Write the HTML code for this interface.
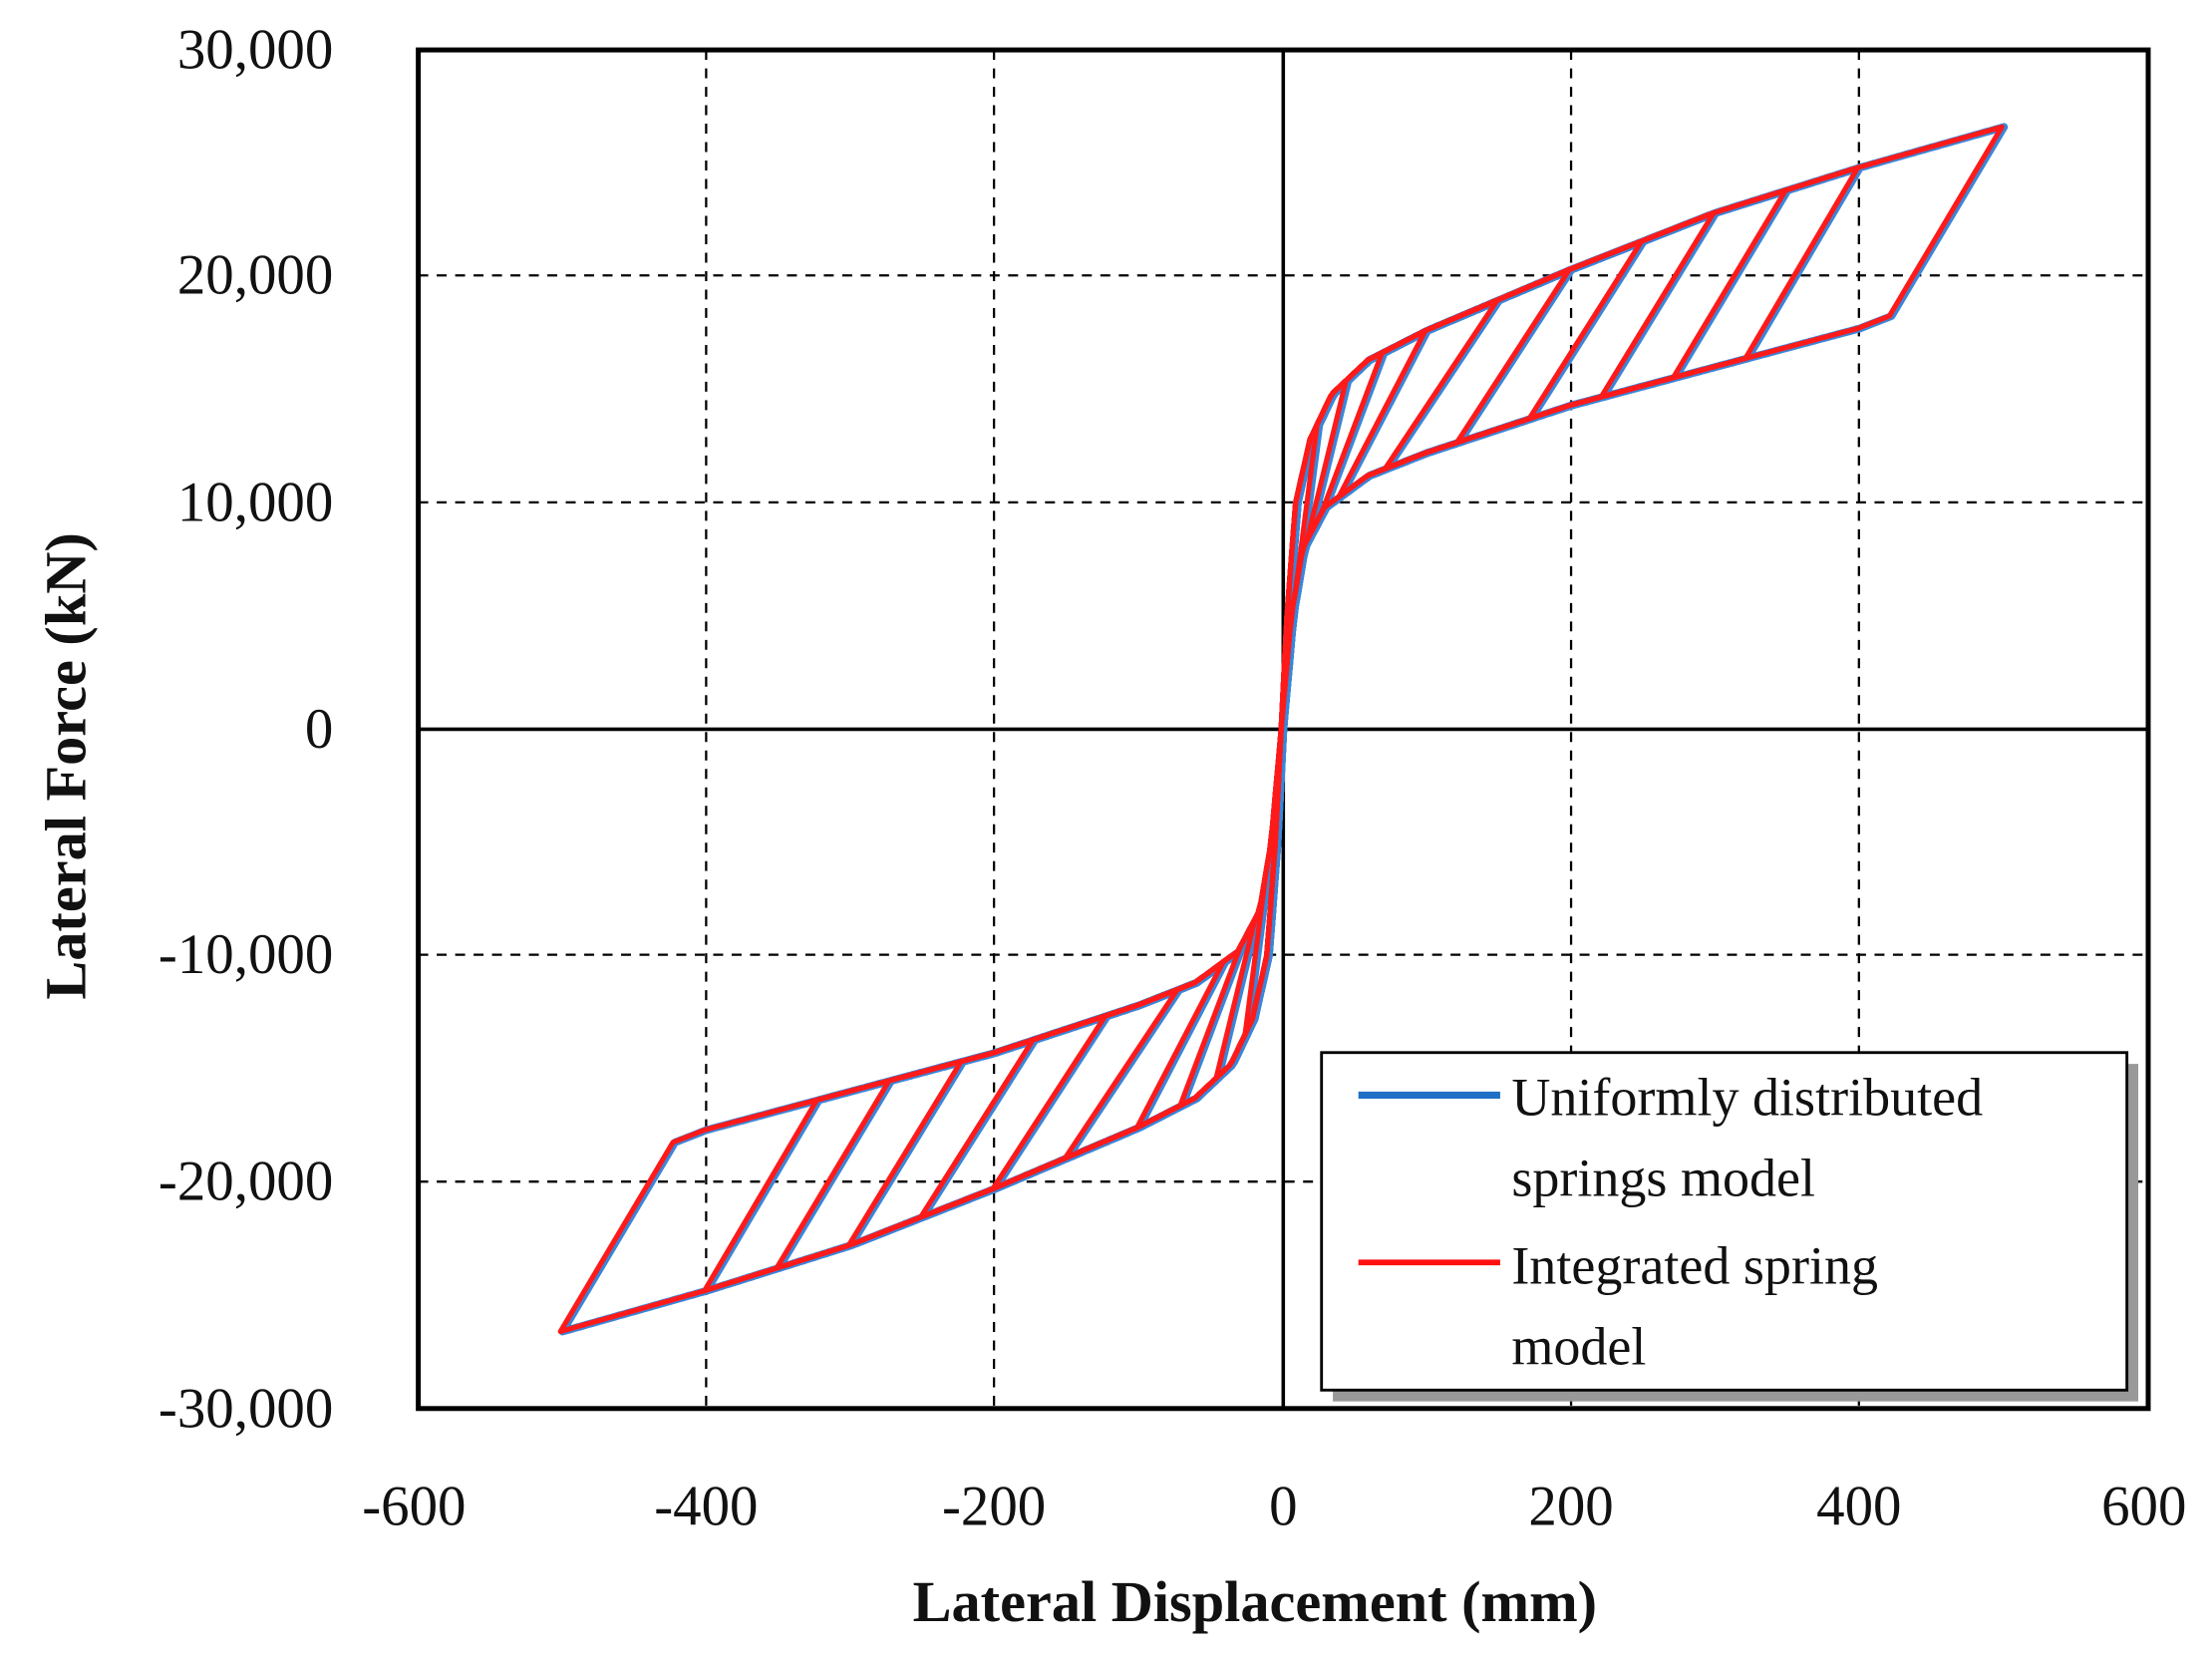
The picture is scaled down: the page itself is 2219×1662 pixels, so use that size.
<!DOCTYPE html>
<html><head><meta charset="utf-8">
<style>
html,body{margin:0;padding:0;background:#fff;}
svg{display:block;}
text{font-family:"Liberation Serif",serif;fill:#111;}
</style></head>
<body>
<svg id="s" width="2219" height="1662" viewBox="0 0 1560 1168" xmlns="http://www.w3.org/2000/svg">
<rect width="1560" height="1168" fill="#fff"/>
<g stroke="#000" stroke-width="1.6" stroke-dasharray="7,6" fill="none">
<line x1="498" y1="35" x2="498" y2="993"/>
<line x1="701" y1="35" x2="701" y2="993"/>
<line x1="1108" y1="35" x2="1108" y2="993"/>
<line x1="1311" y1="35" x2="1311" y2="993"/>
<line x1="295" y1="194" x2="1515" y2="194"/>
<line x1="295" y1="354" x2="1515" y2="354"/>
<line x1="295" y1="673" x2="1515" y2="673"/>
<line x1="295" y1="833" x2="1515" y2="833"/>
</g>
<g stroke="#000" stroke-width="2.5">
<line x1="905" y1="35" x2="905" y2="993"/>
<line x1="295" y1="514" x2="1515" y2="514"/>
</g>
<g id="curves" fill="none" stroke-linejoin="round"></g>
<rect x="295" y="35" width="1220" height="958" fill="none" stroke="#000" stroke-width="3.5"/>
<rect x="940" y="750" width="568" height="238" fill="#999"/>
<rect x="932" y="742" width="568" height="238" fill="#fff" stroke="#000" stroke-width="2"/>
<line x1="958" y1="772" x2="1058" y2="772" stroke="#1f6fc6" stroke-width="5"/>
<line x1="958" y1="890" x2="1058" y2="890" stroke="#ff1010" stroke-width="4"/>
<g font-size="38">
<text x="1066" y="786">Uniformly distributed</text>
<text x="1066" y="843">springs model</text>
<text x="1066" y="905">Integrated spring</text>
<text x="1066" y="962">model</text>
</g>
<g font-size="40" text-anchor="end">
<text x="235" y="48">30,000</text>
<text x="235" y="207">20,000</text>
<text x="235" y="367">10,000</text>
<text x="235" y="527">0</text>
<text x="235" y="686">-10,000</text>
<text x="235" y="846">-20,000</text>
<text x="235" y="1006">-30,000</text>
</g>
<g font-size="40" text-anchor="middle">
<text x="292" y="1075">-600</text>
<text x="498" y="1075">-400</text>
<text x="701" y="1075">-200</text>
<text x="905" y="1075">0</text>
<text x="1108" y="1075">200</text>
<text x="1311" y="1075">400</text>
<text x="1512" y="1075">600</text>
</g>
<text x="885" y="1143" font-size="41" font-weight="bold" text-anchor="middle">Lateral Displacement (mm)</text>
<text transform="translate(60,540) rotate(-90)" font-size="41" font-weight="bold" text-anchor="middle">Lateral Force (kN)</text>
</svg>
<script>
function interp(pts,x){for(var i=1;i<pts.length;i++){if(x<=pts[i][0]){var a=pts[i-1],b=pts[i];return a[1]+(b[1]-a[1])*(x-a[0])/(b[0]-a[0]);}}var a=pts[pts.length-2],b=pts[pts.length-1];return a[1]+(b[1]-a[1])*(x-a[0])/(b[0]-a[0]);}
var FU=[[0,0],[4,5000],[10,10000],[20,12800],[35,14800],[60,16300],[100,17600],[200,20300],[300,22800],[400,24800],[500,26600]];
var FL=[[0,0],[7,5000],[15,8000],[30,9800],[60,11200],[100,12200],[200,14300],[300,16000],[400,17700],[440,18700]];
function U(x){return x>=0?interp(FU,x):-interp(FL,-x);}
function L(x){return -U(-x);}
function X(x){return 905+x*1.01667;}
function Y(f){return 514-f*0.015967;}
function loop(a){
 var d=Math.min(78,0.6*a), xb=a-d;
 var p=[];
 for(var x=-xb;x<a;x+=2)p.push([x,U(x)]);
 p.push([a,U(a)]);p.push([xb,L(xb)]);
 for(var x=xb;x>-a;x-=2)p.push([x,L(x)]);
 p.push([-a,L(-a)]);p.push([-xb,U(-xb)]);
 return "M"+p.map(function(q){return X(q[0]).toFixed(1)+","+Y(q[1]).toFixed(1);}).join("L")+"Z";
}
var amps=[500,400,350,300,250,200,150,100,70,45,25];
var g=document.getElementById("curves"),h="";
amps.forEach(function(a){h+='<path d="'+loop(a)+'" stroke="#3a86d8" stroke-width="5.5"/>';});
amps.forEach(function(a){h+='<path d="'+loop(a)+'" stroke="#ff1a1a" stroke-width="3.6" transform="translate(-1.5,0)"/>';});
g.innerHTML=h;
</script>
</body></html>
